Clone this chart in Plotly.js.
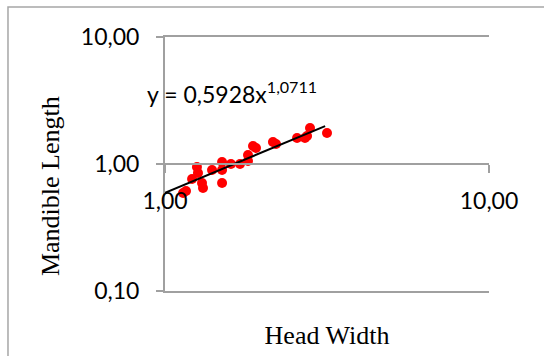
<!DOCTYPE html>
<html>
<head>
<meta charset="utf-8">
<script src="https://cdn.plot.ly/plotly-3.0.1.min.js"></script>
<style>html,body{margin:0;padding:0;background:#fff;}</style>
</head>
<body>
<div id="chart" style="width:544px;height:356px;"></div>
<script>
// Data (log-log scatter)
const headWidth = [1.137, 1.161, 1.212, 1.255, 1.264, 1.301, 1.310, 1.397, 1.500, 1.500, 1.500, 1.598, 1.704, 1.804, 1.804, 1.869, 1.909, 2.154, 2.201, 2.556, 2.704, 2.744, 2.803, 3.162];
const mandibleLength = [0.591, 0.613, 0.762, 0.947, 0.849, 0.709, 0.647, 0.897, 1.037, 0.897, 0.709, 1.000, 1.000, 1.177, 1.056, 1.386, 1.336, 1.490, 1.437, 1.602, 1.602, 1.662, 1.921, 1.754];
// Power trendline endpoints as drawn in the reference
const trendX = [1.0, 3.12];
const trendY = [0.593, 1.99];
const xTickVals = [1, 10];
const xTickText = ['1,00', '10,00'];
const yTickVals = [0.1, 1, 10];
const yTickText = ['0,10', '1,00', '10,00'];
const equationText = 'y = 0,5928x<sup>1,0711</sup>';
const xTitle = 'Head Width';
const yTitle = 'Mandible Length';

const gridGray = '#a0a0a0';
const tickFont = {family: 'Lato, Carlito, sans-serif', size: 23, color: '#000'};
const titleFont = {family: '"Liberation Serif", "Times New Roman", serif', size: 26, color: '#000'};

const traces = [
  {
    x: headWidth, y: mandibleLength, type: 'scatter', mode: 'markers',
    marker: {color: '#ff0000', size: 10, line: {width: 0}},
    xaxis: 'x', yaxis: 'y', showlegend: false, hoverinfo: 'x+y'
  },
  {
    x: trendX, y: trendY, type: 'scatter', mode: 'lines',
    line: {color: '#000000', width: 2},
    xaxis: 'x2', yaxis: 'y', showlegend: false, hoverinfo: 'skip'
  }
];

const layout = {
  width: 544, height: 356,
  margin: {l: 165, r: 55, t: 37, b: 65, pad: 0},
  paper_bgcolor: '#ffffff', plot_bgcolor: '#ffffff',
  showlegend: false,
  xaxis: {
    type: 'log', range: [0, 1],
    showgrid: false, zeroline: false,
    showline: true, mirror: true, linecolor: gridGray, linewidth: 2,
    ticks: '', showticklabels: false,
    title: {text: xTitle, font: titleFont, standoff: 34}
  },
  xaxis2: {
    type: 'log', range: [0, 1], overlaying: 'x',
    anchor: 'free', position: 0.5, side: 'bottom',
    showgrid: false, zeroline: false,
    showline: true, linecolor: gridGray, linewidth: 2,
    ticks: 'outside', ticklen: 8, tickwidth: 2, tickcolor: gridGray,
    tickvals: xTickVals, ticktext: xTickText,
    tickfont: tickFont, ticklabelstandoff: 8
  },
  yaxis: {
    type: 'log', range: [-1, 1],
    showgrid: true, gridcolor: gridGray, gridwidth: 2,
    zeroline: false,
    showline: true, linecolor: gridGray, linewidth: 2,
    ticks: 'outside', ticklen: 7, tickwidth: 2, tickcolor: gridGray,
    tickvals: yTickVals, ticktext: yTickText,
    tickfont: tickFont, ticklabelstandoff: 12
  },
  annotations: [
    {
      xref: 'paper', yref: 'paper', x: -0.062, y: 0.78,
      xanchor: 'left', yanchor: 'middle', showarrow: false,
      text: equationText, font: tickFont
    },
    {
      xref: 'paper', yref: 'paper', x: -0.355, y: 0.413,
      xanchor: 'center', yanchor: 'middle', showarrow: false,
      textangle: -90, text: yTitle, font: titleFont
    }
  ],
  shapes: [
    {
      type: 'rect', xref: 'paper', yref: 'paper',
      x0: -0.4846, y0: 1.118, x1: 1.3, y1: -0.35,
      line: {color: '#a6a6a6', width: 1.5}, fillcolor: 'rgba(0,0,0,0)', layer: 'below'
    }
  ]
};

Plotly.newPlot('chart', traces, layout, {displayModeBar: false, staticPlot: true});
</script>
</body>
</html>
